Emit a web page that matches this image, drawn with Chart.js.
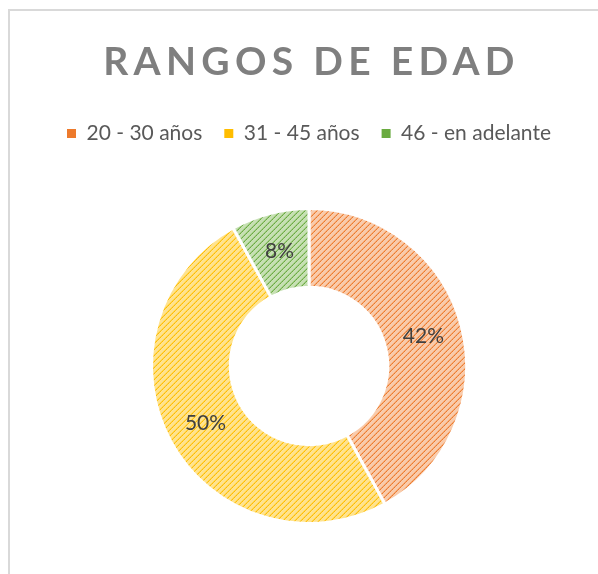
<!DOCTYPE html>
<html>
<head>
<meta charset="utf-8">
<script src="https://cdn.jsdelivr.net/npm/chart.js@4/dist/chart.umd.min.js"></script>
<style>
    html, body { margin: 0; padding: 0; background: #fff; overflow: hidden; }
    body { width: 598px; height: 574px; position: relative; }
    #marco {
        position: absolute; left: 8px; top: 9px; width: 700px; height: 700px;
        border-left: 2px solid #d9d9d9; border-top: 2px solid #d9d9d9;
    }
    #wrap { position: absolute; left: 0; top: 0; width: 618px; height: 574px; }
</style>
</head>
<body>
<div id="marco"></div>
<div id="wrap"><canvas id="graficaEdad"></canvas></div>
<script>
const titulo = 'RANGOS DE EDAD';
const rangos = ['20 - 30 años', '31 - 45 años', '46 - en adelante'];
const porcentajes = [42, 50, 8];

const colores = [
    { claro: '#f9cbab', oscuro: '#ed7a2c' },
    { claro: '#ffe38e', oscuro: '#ffbd00' },
    { claro: '#c6e0b3', oscuro: '#6aab40' }
];

// rayado diagonal como el relleno de Excel
function rayado(claro, oscuro) {
    const n = 6;
    const c = document.createElement('canvas');
    c.width = n; c.height = n;
    const ctx = c.getContext('2d');
    ctx.fillStyle = claro;
    ctx.fillRect(0, 0, n, n);
    ctx.fillStyle = oscuro;
    for (let i = 0; i < n; i++) {
        ctx.globalAlpha = i % 2 === 0 ? 1 : 0.8;
        ctx.fillRect(i, n - 1 - i, 1, 1);
        ctx.globalAlpha = 0.4;
        ctx.fillRect(i, (2 * n - 2 - i) % n, 1, 1);
    }
    return document.createElement('canvas').getContext('2d').createPattern(c, 'repeat');
}

const rellenos = colores.map(c => rayado(c.claro, c.oscuro));
const cuadros = colores.map(c => c.oscuro);

const tituloPlugin = {
    id: 'tituloEspaciado',
    beforeInit(chart) {
        // mas aire entre la leyenda y el anillo
        const fitOriginal = chart.legend.fit;
        chart.legend.fit = function () {
            fitOriginal.call(this);
            this.height += 53;
        };
    },
    afterDraw(chart) {
        const ctx = chart.ctx;
        ctx.save();
        ctx.font = 'bold 39px Lato';
        ctx.fillStyle = '#7f7f7f';
        ctx.letterSpacing = '5.3px';
        ctx.textAlign = 'center';
        ctx.textBaseline = 'alphabetic';
        ctx.fillText(titulo, 309 + 2.5, 75);
        ctx.restore();
    }
};

const etiquetasPlugin = {
    id: 'etiquetas',
    afterDatasetsDraw(chart) {
        const ctx = chart.ctx;
        const meta = chart.getDatasetMeta(0);
        ctx.save();
        ctx.font = '21px Lato';
        ctx.fillStyle = '#404040';
        ctx.textAlign = 'center';
        ctx.textBaseline = 'middle';
        meta.data.forEach((arc, i) => {
            const p = arc.tooltipPosition();
            ctx.fillText(porcentajes[i] + '%', p.x, p.y);
        });
        ctx.restore();
    }
};

new Chart(document.getElementById('graficaEdad'), {
    type: 'doughnut',
    data: {
        labels: rangos,
        datasets: [{
            data: porcentajes,
            backgroundColor: rellenos,
            borderColor: '#ffffff',
            borderWidth: 3,
            hoverOffset: 0
        }]
    },
    options: {
        responsive: true,
        maintainAspectRatio: false,
        animation: false,
        cutout: '50%',
        layout: { padding: { top: 101, bottom: 49, left: 10, right: 10 } },
        plugins: {
            title: { display: false },
            tooltip: { enabled: false },
            legend: {
                position: 'top',
                labels: {
                    boxWidth: 9,
                    boxHeight: 9,
                    padding: 22,
                    color: '#595959',
                    font: { family: 'Lato', size: 21 },
                    generateLabels(chart) {
                        return rangos.map((r, i) => ({
                            text: r,
                            fillStyle: cuadros[i],
                            strokeStyle: cuadros[i],
                            lineWidth: 0,
                            fontColor: '#595959',
                            index: i,
                            hidden: false
                        }));
                    }
                }
            }
        }
    },
    plugins: [tituloPlugin, etiquetasPlugin]
});
</script>
</body>
</html>
